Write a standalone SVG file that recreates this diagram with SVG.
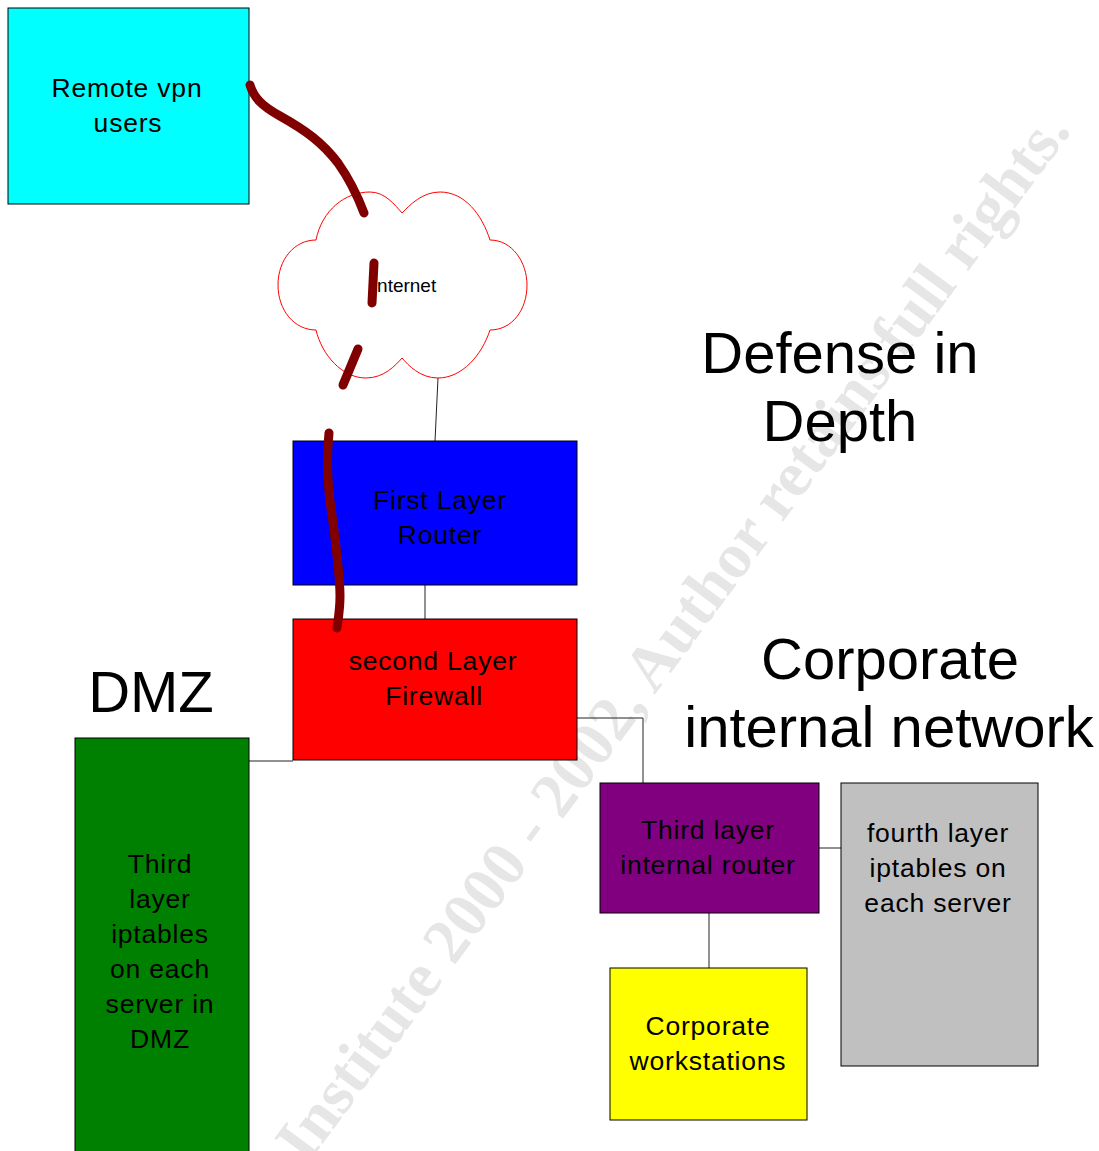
<svg xmlns="http://www.w3.org/2000/svg" width="1099" height="1151" viewBox="0 0 1099 1151">
<style>
.box{stroke:#000;stroke-width:1}
.t{font-family:"Liberation Sans",Arial,sans-serif;font-size:26.5px;letter-spacing:0.8px;fill:#000;text-anchor:middle}
.big{font-family:"Liberation Sans",Arial,sans-serif;font-size:58px;fill:#000;text-anchor:middle}
.wm{font-family:"Liberation Serif","Times New Roman",serif;font-weight:bold;font-size:64px;fill:#e6e6e6;text-anchor:end}
.conn{fill:none;stroke:#222;stroke-width:1}
.vpn{fill:none;stroke:#800000;stroke-width:9;stroke-linecap:round;stroke-linejoin:round}
</style>
<rect x="0" y="0" width="1099" height="1151" fill="#fff"/>
<text class="wm" transform="translate(1072,131) rotate(-53.5)">© SANS Institute 2000 - 2002, Author retains full rights.</text>

<g id="connectors">
<polyline class="conn" points="438,378 435,441"/>
<polyline class="conn" points="425,585 425,619"/>
<polyline class="conn" points="249,761 293,761"/>
<polyline class="conn" points="577,718 643,718 643,783"/>
<polyline class="conn" points="819,848 841,848"/>
<polyline class="conn" points="709,913 709,968"/>
</g>

<g id="remote">
<rect class="box" x="8" y="8" width="241" height="196" fill="#00ffff"/>
<text class="t" x="127" y="97">Remote vpn</text>
<text class="t" x="128" y="132">users</text>
</g>

<g id="internet">
<path d="M316,240 C322,210 345,192 370,192 C385,192 395,205 402,213 C410,205 422,192 440,192 C465,192 482,215 490,240 C512,240 527,262 527,285 C527,310 512,330 490,330 C482,355 462,378 438,378 C420,378 408,365 402,358 C396,365 384,378 366,378 C342,378 322,355 316,330 C294,330 278,310 278,285 C278,260 294,240 316,240 Z" fill="#fff" stroke="#ff0000" stroke-width="1"/>
<text x="404" y="292" font-family="Liberation Sans,Arial,sans-serif" font-size="19" fill="#000" text-anchor="middle">Internet</text>
</g>

<g id="router1">
<rect class="box" x="293" y="441" width="284" height="144" fill="#0000ff"/>
<text class="t" x="440" y="509">First Layer</text>
<text class="t" x="440" y="544">Router</text>
</g>

<g id="firewall">
<rect class="box" x="293" y="619" width="284" height="141" fill="#ff0000"/>
<text class="t" x="433" y="670">second Layer</text>
<text class="t" x="434" y="705">Firewall</text>
</g>

<g id="dmz">
<rect class="box" x="75" y="738" width="174" height="420" fill="#008000"/>
<text class="t" x="160" y="873">Third</text>
<text class="t" x="160" y="908">layer</text>
<text class="t" x="160" y="943">iptables</text>
<text class="t" x="160" y="978">on each</text>
<text class="t" x="160" y="1013">server in</text>
<text class="t" x="160" y="1048">DMZ</text>
</g>

<g id="router3">
<rect class="box" x="600" y="783" width="219" height="130" fill="#800080"/>
<text class="t" x="708" y="839">Third layer</text>
<text class="t" x="708" y="874">internal router</text>
</g>

<g id="servers">
<rect class="box" x="841" y="783" width="197" height="283" fill="#c0c0c0"/>
<text class="t" x="938" y="842">fourth layer</text>
<text class="t" x="938" y="877">iptables on</text>
<text class="t" x="938" y="912">each server</text>
</g>

<g id="workstations">
<rect class="box" x="610" y="968" width="197" height="152" fill="#ffff00"/>
<text class="t" x="708" y="1035">Corporate</text>
<text class="t" x="708" y="1070">workstations</text>
</g>

<g id="labels">
<text class="big" x="840" y="373">Defense in</text>
<text class="big" x="840" y="441">Depth</text>
<text class="big" x="890" y="679">Corporate</text>
<text class="big" x="889" y="747">internal network</text>
<text class="big" x="151" y="712">DMZ</text>
</g>

<g id="vpn-path">
<path class="vpn" d="M250,85 C254,98 262,106 280,116 C305,130 322,142 338,163 C350,180 358,197 364,213"/>
<path class="vpn" d="M374,263 L372,303"/>
<path class="vpn" d="M358,349 L343,385"/>
<path class="vpn" d="M329,433 C326,460 328,490 332,515 C336,545 340,575 340,596 C340,610 338,620 337,628"/>
</g>
</svg>
